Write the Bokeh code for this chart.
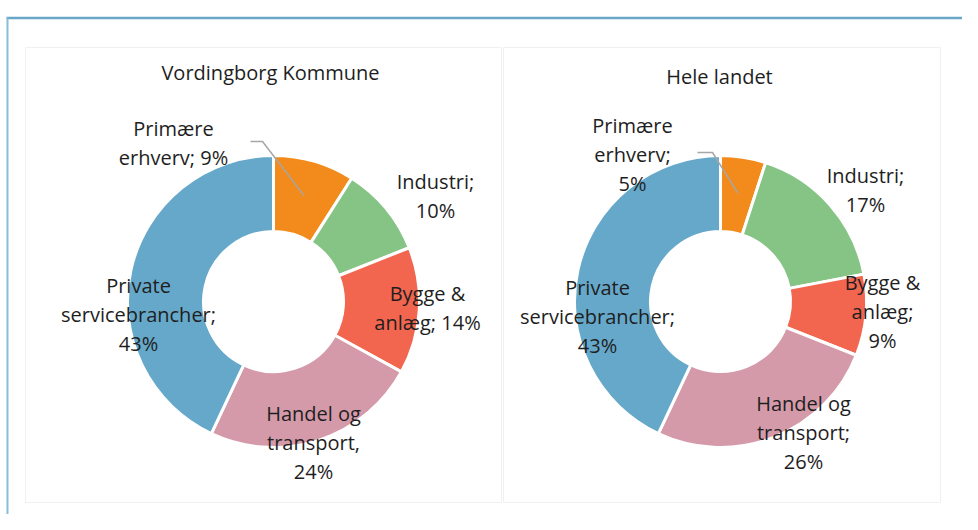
import math
from bokeh.plotting import figure
from bokeh.models import Range1d, ColumnDataSource
from bokeh.core.properties import value
from bokeh.embed import file_html
from bokeh.resources import INLINE

# ---------------- data ----------------
categories = ["Primære erhverv", "Industri", "Bygge & anlæg", "Handel og transport", "Private servicebrancher"]
colors = ["#F28B1B", "#86C486", "#F2654F", "#D59AAA", "#66A8CA"]
vordingborg = [9, 10, 14, 24, 43]
hele_landet = [5, 17, 9, 26, 43]
titles = ["Vordingborg Kommune", "Hele landet"]

left_labels = [
    ["Primære", f"erhverv; {vordingborg[0]}%"],
    ["Industri;", f"{vordingborg[1]}%"],
    ["Bygge &", f"anlæg; {vordingborg[2]}%"],
    ["Handel og", "transport,", f"{vordingborg[3]}%"],
    ["Private", "servicebrancher;", f"{vordingborg[4]}%"],
]
right_labels = [
    ["Primære", "erhverv;", f"{hele_landet[0]}%"],
    ["Industri;", f"{hele_landet[1]}%"],
    ["Bygge &", "anlæg;", f"{hele_landet[2]}%"],
    ["Handel og", "transport;", f"{hele_landet[3]}%"],
    ["Private", "servicebrancher;", f"{hele_landet[4]}%"],
]

# ---------------- layout (picture pixel coordinates) ----------------
W, H = 962, 514
PAGE_H = 530
FONT = "Open Sans"
TXT = "#1E1E1E"
LINE_STEP = 29

def Y(py):
    return PAGE_H - py

p = figure(width=W, height=H, output_backend="svg", toolbar_location=None,
           x_range=Range1d(0, W), y_range=Range1d(Y(H), Y(0)),
           min_border=0, outline_line_color=None)
p.axis.visible = False
p.grid.visible = False
p.background_fill_color = "white"
p.border_fill_color = "white"

# outer frame
p.segment(x0=[6], y0=[Y(17.5)], x1=[W + 5], y1=[Y(17.5)], line_color="#6AA6C8", line_width=2.5)
p.segment(x0=[7], y0=[Y(17)], x1=[7], y1=[Y(H + 10)], line_color="#88BCD8", line_width=2)

# faint chart areas
p.quad(left=[25, 503], right=[501, 940], top=[Y(47), Y(47)], bottom=[Y(502), Y(502)],
       fill_color=None, line_color="#F0F0F0", line_width=1)

panels = [
    dict(cx=273, cy=301, vals=vordingborg, title=titles[0], title_xy=(270, 72), labels=left_labels,
         offsets=[(-100, -173), (162, -120), (154, -8), (40, 112), (-135, -16)],
         leader=[(250, 141), (262, 141)]),
    dict(cx=720, cy=301, vals=hele_landet, title=titles[1], title_xy=(719, 76), labels=right_labels,
         offsets=[(-88, -176), (145, -126), (162, -19), (83, 102), (-123, -14)],
         leader=[(697, 152), (712, 152)]),
]

R_OUT, R_IN = 146, 70

for pn in panels:
    vals = pn["vals"]
    tot = float(sum(vals))
    starts, ends, mids = [], [], []
    c = 0.0
    for v in vals:
        a0 = math.pi / 2 - 2 * math.pi * c / tot
        c += v
        a1 = math.pi / 2 - 2 * math.pi * c / tot
        starts.append(a0)
        ends.append(a1)
        mids.append((a0 + a1) / 2)
    src = ColumnDataSource(dict(x=[pn["cx"]] * len(vals), y=[Y(pn["cy"])] * len(vals),
                                start=starts, end=ends, color=colors, cat=categories))
    p.annular_wedge(x="x", y="y", inner_radius=R_IN, outer_radius=R_OUT,
                    start_angle="start", end_angle="end", direction="clock",
                    fill_color="color", line_color="white", line_width=3, source=src)

    # leader line for first slice
    m = mids[0]
    ex = pn["cx"] + 110 * math.cos(m)
    ey = Y(pn["cy"]) + 110 * math.sin(m)
    (lx0, ly0), (lx1, ly1) = pn["leader"]
    p.line(x=[lx0, lx1, ex], y=[Y(ly0), Y(ly1), ey], line_color="#A6A6A6", line_width=1.5)

    # title
    tx, ty = pn["title_xy"]
    p.text(x=[tx], y=[Y(ty)], text=[pn["title"]], text_font=value(FONT), text_font_size="20px",
           text_align="center", text_baseline="middle", text_color=TXT)

    # labels
    xs, ys, ts = [], [], []
    for lines, (dx, dy) in zip(pn["labels"], pn["offsets"]):
        for k, ln in enumerate(lines):
            xs.append(pn["cx"] + dx)
            ys.append(Y(pn["cy"] + dy + k * LINE_STEP))
            ts.append(ln)
    p.text(x=xs, y=ys, text=ts, text_font=value(FONT), text_font_size="20px",
           text_align="center", text_baseline="middle", text_color=TXT)

open("out.html", "w").write(file_html(p, INLINE))
